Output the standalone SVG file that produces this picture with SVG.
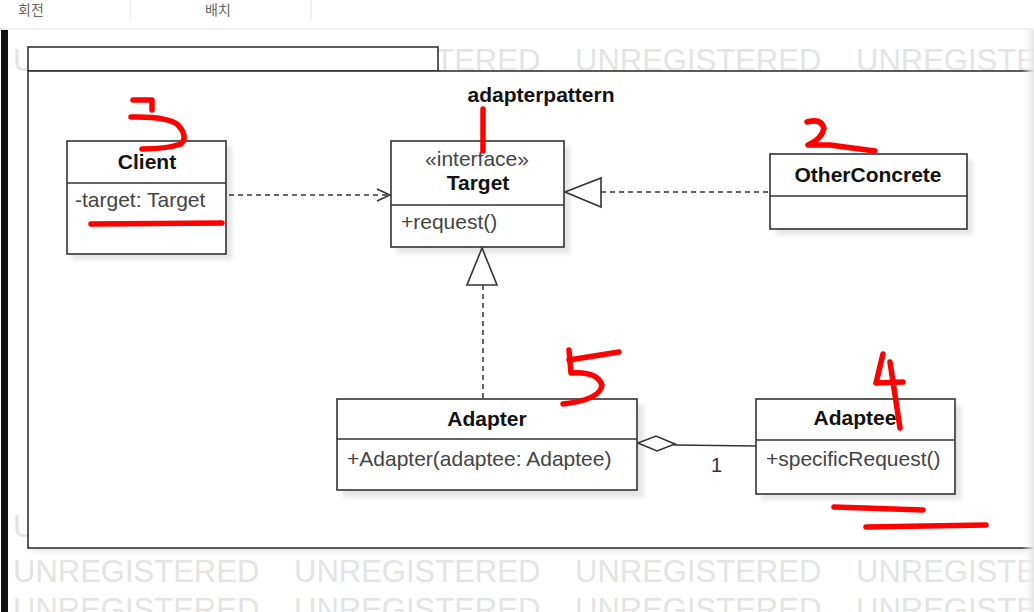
<svg xmlns="http://www.w3.org/2000/svg" width="1034" height="612" viewBox="0 0 1034 612">
<defs>
<style>
.box{fill:#fff;stroke:#333;stroke-width:1.6}
.sh{fill:#e6e6e6;filter:url(#blur)}
.ttl{font-family:"Liberation Sans",Arial,sans-serif;font-size:21px;font-weight:bold;fill:#111;text-anchor:middle}
.mem{font-family:"Liberation Sans",Arial,sans-serif;font-size:21px;fill:#444}
.wm{font-family:"Liberation Sans",Arial,sans-serif;font-size:31px;fill:#e4e4e4}
.dash{fill:none;stroke:#333;stroke-width:1.5;stroke-dasharray:5 4}
.solid{fill:none;stroke:#333;stroke-width:1.5}
.red{fill:none;stroke:#f00;stroke-width:5.5;stroke-linecap:round;stroke-linejoin:round}
.kr{font-family:"Noto Sans CJK KR",sans-serif;font-size:14px;fill:#666}
</style>
<filter id="blur" x="-10%" y="-10%" width="120%" height="120%"><feGaussianBlur stdDeviation="2"/></filter>
<linearGradient id="edge" x1="0" x2="1" y1="0" y2="0"><stop offset="0" stop-color="#fff" stop-opacity="0"/><stop offset="1" stop-color="#e4e4e4"/></linearGradient>
</defs>
<rect x="0" y="0" width="1034" height="612" fill="#fff"/>
<g id="topbar">
<line x1="0" y1="29" x2="1034" y2="29" stroke="#e2e2e2" stroke-width="1"/>
<line x1="130" y1="0" x2="130" y2="20" stroke="#e4e4e4" stroke-width="1"/>
<line x1="311" y1="0" x2="311" y2="20" stroke="#e4e4e4" stroke-width="1"/>
<text class="kr" x="18" y="15">회전</text>
<text class="kr" x="205" y="15">배치</text>
</g>
<rect x="1" y="30" width="7" height="582" fill="#111"/>
<g id="watermark">
<text class="wm" x="13" y="71">UNREGISTERED</text><text class="wm" x="294" y="71">UNREGISTERED</text><text class="wm" x="575" y="71">UNREGISTERED</text><text class="wm" x="856" y="71">UNREGISTE</text>
<text class="wm" x="13" y="537">UNREGISTERED</text>
<text class="wm" x="13" y="582">UNREGISTERED</text><text class="wm" x="294" y="582">UNREGISTERED</text><text class="wm" x="575" y="582">UNREGISTERED</text><text class="wm" x="856" y="582">UNREGISTE</text>
<text class="wm" x="13" y="620">UNREGISTERED</text><text class="wm" x="294" y="620">UNREGISTERED</text><text class="wm" x="575" y="620">UNREGISTERED</text><text class="wm" x="856" y="620">UNREGISTE</text>
</g>
<g id="package">
<rect x="32" y="76" width="1010" height="476" fill="#e8e8e8" filter="url(#blur)"/>
<rect x="28" y="47" width="410" height="24" class="box"/>
<rect x="28" y="71" width="1010" height="477" class="box"/>
<text class="ttl" x="541" y="102">adapterpattern</text>
</g>
<rect x="1022" y="30" width="12" height="582" fill="url(#edge)"/>
<g id="Client">
<rect class="sh" x="72" y="146" width="160" height="114"/>
<rect class="box" x="67" y="141" width="159" height="113"/>
<line class="solid" x1="67" y1="183" x2="226" y2="183"/>
<text class="ttl" x="147" y="169">Client</text>
<text class="mem" x="75" y="207">-target: Target</text>
</g>
<g id="Target">
<rect class="sh" x="397" y="146" width="173" height="108"/>
<rect class="box" x="391" y="141" width="173" height="106"/>
<line class="solid" x1="391" y1="205" x2="564" y2="205"/>
<text class="mem" x="477" y="166" text-anchor="middle">«interface»</text>
<text class="ttl" x="478" y="190">Target</text>
<text class="mem" x="401" y="229">+request()</text>
</g>
<g id="OtherConcrete">
<rect class="sh" x="776" y="160" width="197" height="75"/>
<rect class="box" x="770" y="154" width="197" height="75"/>
<line class="solid" x1="770" y1="196" x2="967" y2="196"/>
<text class="ttl" x="868" y="182">OtherConcrete</text>
</g>
<g id="Adapter">
<rect class="sh" x="343" y="405" width="301" height="92"/>
<rect class="box" x="337" y="399" width="300" height="91"/>
<line class="solid" x1="337" y1="439" x2="637" y2="439"/>
<text class="ttl" x="487" y="426">Adapter</text>
<text class="mem" x="347" y="466">+Adapter(adaptee: Adaptee)</text>
</g>
<g id="Adaptee">
<rect class="sh" x="762" y="405" width="199" height="95"/>
<rect class="box" x="756" y="399" width="199" height="95"/>
<line class="solid" x1="756" y1="440" x2="955" y2="440"/>
<text class="ttl" x="855" y="425">Adaptee</text>
<text class="mem" x="766" y="466">+specificRequest()</text>
</g>
<g id="connectors">
<line class="dash" x1="229" y1="195" x2="389" y2="195"/>
<polyline class="solid" points="377,189 390,195 377,201"/>
<line class="dash" x1="601" y1="192" x2="770" y2="192"/>
<polygon class="box" points="565,192 601,178 601,207"/>
<line class="dash" x1="483" y1="285" x2="483" y2="399"/>
<polygon class="box" points="482,248 467,285 497,285"/>
<line class="solid" x1="674" y1="445" x2="756" y2="446"/>
<polygon class="box" points="638,443 656,436 675,444 657,451"/>
<text class="mem" x="711" y="472" style="font-size:20px;fill:#333">1</text>
</g>
<g id="annotations">
<path class="red" d="M133,100 L152,100 L152,110 M131,117 Q165,116 177,124 Q189,136 181,144 Q166,149 142,149"/>
<path class="red" d="M483,109 L483,151"/>
<path class="red" d="M807,122 Q821,118 824,128 Q822,139 808,145 L830,145 L875,151"/>
<path class="red" d="M569,350 L571,373 Q597,371 602,385 Q600,400 563,404 M569,360 L619,352"/>
<path class="red" d="M883,354 L876,383 L903,382 M890,362 L900,428"/>
<path class="red" d="M91,224 L222,223"/>
<path class="red" d="M834,507 L923,510"/>
<path class="red" d="M866,527 L986,525"/>
</g>
</svg>
